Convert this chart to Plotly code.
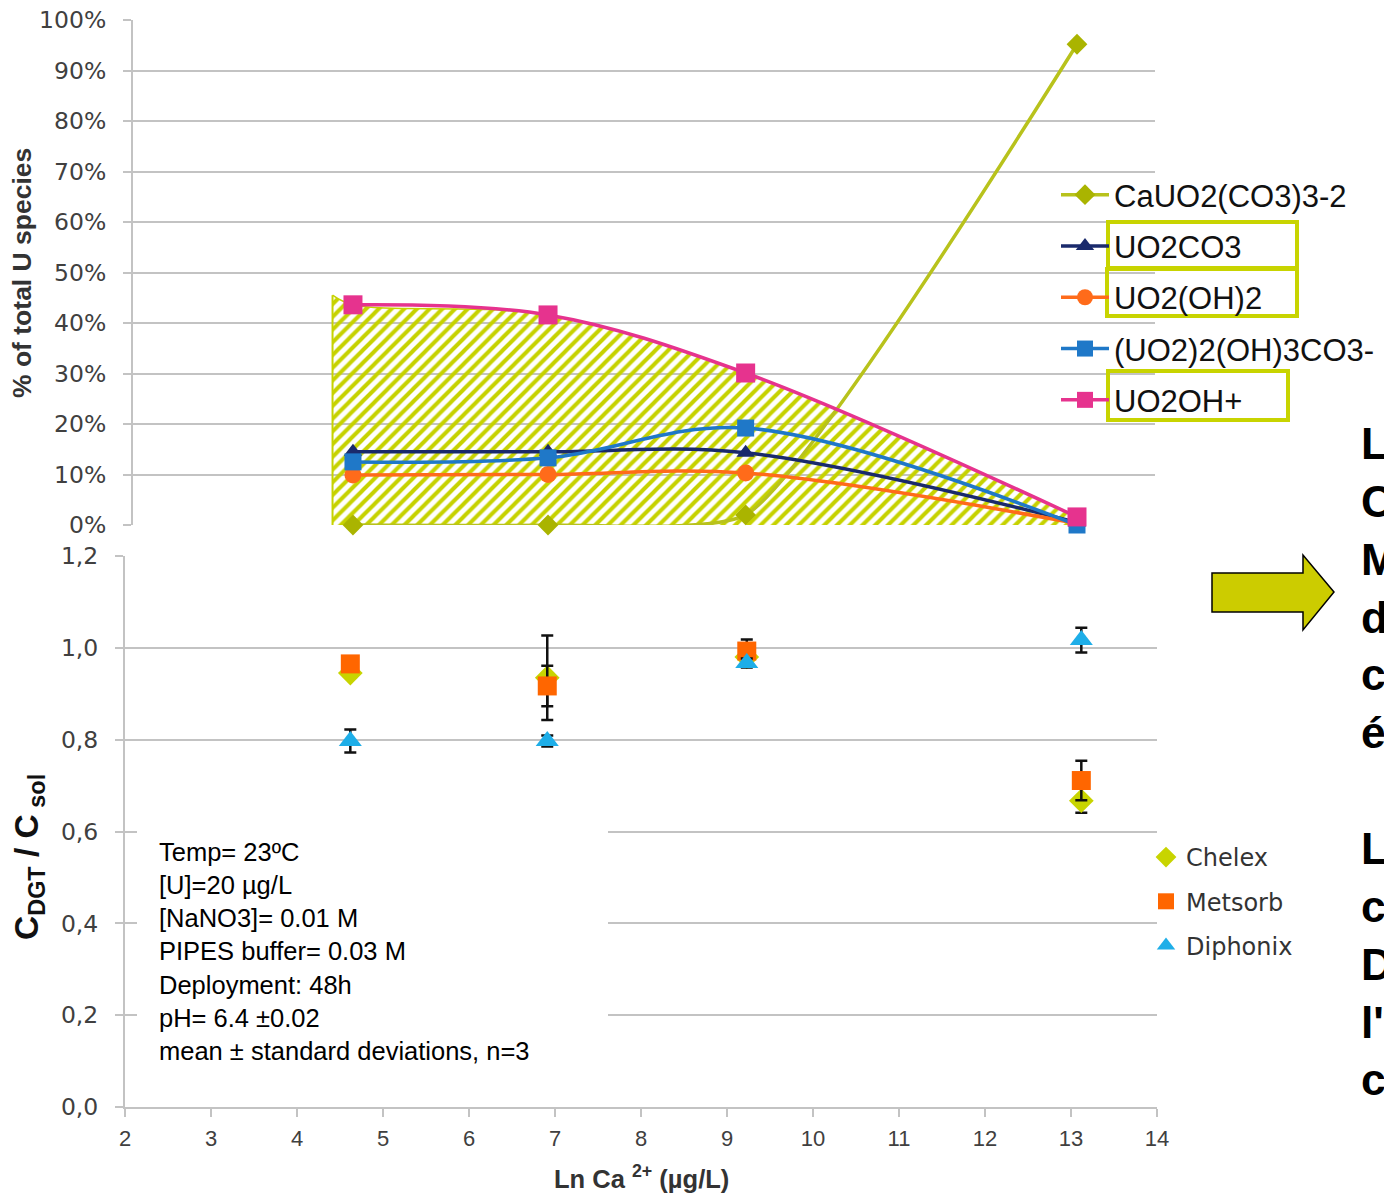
import plotly.graph_objects as go

W, H = 1384, 1195

# ---------------- data ----------------
ln_ca = [4.62, 6.91, 9.23, 13.12]

species_names = ["CaUO2(CO3)3-2", "UO2CO3", "UO2(OH)2", "(UO2)2(OH)3CO3-", "UO2OH+"]
ca_uo2_co3 = [0.0, 0.0, 2.0, 95.2]
uo2co3 = [14.5, 14.5, 14.3, 0.5]
uo2_oh2 = [9.9, 10.0, 10.3, 0.3]
uo2_2_oh3co3 = [12.5, 13.3, 19.2, 0.0]
uo2oh = [43.6, 41.6, 30.1, 1.6]

hatch_start_x = 4.38
hatch_start_y = 45.5

resins = ["Chelex", "Metsorb", "Diphonix"]
chelex = [0.945, 0.935, 0.980, 0.667]
chelex_sd = [0.010, 0.092, 0.020, 0.026]
metsorb = [0.965, 0.917, 0.993, 0.711]
metsorb_sd = [0.010, 0.044, 0.025, 0.043]
diphonix = [0.797, 0.797, 0.967, 1.017]
diphonix_sd = [0.025, 0.012, 0.010, 0.027]

pct_ticks = [0, 10, 20, 30, 40, 50, 60, 70, 80, 90, 100]
pct_ticktext = ["0%", "10%", "20%", "30%", "40%", "50%", "60%", "70%", "80%", "90%", "100%"]
ratio_ticks = [0.0, 0.2, 0.4, 0.6, 0.8, 1.0, 1.2]
ratio_ticktext = ["0,0", "0,2", "0,4", "0,6", "0,8", "1,0", "1,2"]
x_ticks = [2, 3, 4, 5, 6, 7, 8, 9, 10, 11, 12, 13, 14]

conditions = ["Temp= 23ºC", "[U]=20 µg/L", "[NaNO3]= 0.01 M", "PIPES buffer= 0.03 M",
              "Deployment: 48h", "pH= 6.4 ±0.02", "mean ± standard deviations, n=3"]
side_letters = ["L", "C", "M", "d", "c", "é", "", "L", "c", "D", "l'", "c"]

# ---------------- style ----------------
FONT = "Liberation Sans, Arial, sans-serif"
VFONT = "DejaVu Sans, Verdana, sans-serif"
NARROW = "Liberation Sans Narrow, Arial Narrow, Liberation Sans, Arial, sans-serif"
GRID = "#c3c3c3"
TICKC = "#404040"
YG_LINE = "#b8c21c"
YG_MARK = "#aab400"
HATCH = "#c6d200"
BOX = "#c8d400"
NAVY = "#1a2a6c"
ORANGE = "#ff6b1a"
BLUE = "#1f78c8"
PINK = "#e6338e"
CHELEX_C = "#c8d400"
METSORB_C = "#ff6600"
DIPHONIX_C = "#1eaee8"


def px(x):
    return x / W


def py(y):
    return 1 - y / H


# top chart x mapping (pixels)
TOP_X2_PIX = 129.8
TOP_SCALE = 85.18
top_range = [2 + (133 - TOP_X2_PIX) / TOP_SCALE, 2 + (1155 - TOP_X2_PIX) / TOP_SCALE]

fig = go.Figure()

# hatched area
fig.add_trace(go.Scatter(
    x=[hatch_start_x] + ln_ca, y=[hatch_start_y] + uo2oh,
    mode="lines", line=dict(color=HATCH, width=1.5, shape="spline"),
    fill="tozeroy", fillcolor="rgba(0,0,0,0)",
    fillpattern=dict(shape="/", fgcolor=HATCH, size=9, solidity=0.45, fgopacity=1),
    showlegend=False, hoverinfo="skip", xaxis="x", yaxis="y"))
fig.add_trace(go.Scatter(
    x=[hatch_start_x, hatch_start_x], y=[0, hatch_start_y], mode="lines",
    line=dict(color=HATCH, width=2), showlegend=False, hoverinfo="skip",
    xaxis="x", yaxis="y"))

top_series = [
    (species_names[0], ca_uo2_co3, YG_LINE, YG_MARK, "diamond", 16, 0.5),
    (species_names[1], uo2co3, NAVY, NAVY, "triangle-up", 16, 1.0),
    (species_names[2], uo2_oh2, ORANGE, ORANGE, "circle", 17, 1.0),
    (species_names[3], uo2_2_oh3co3, BLUE, BLUE, "square", 17, 1.0),
    (species_names[4], uo2oh, PINK, PINK, "square", 19, 1.0),
]
for i, (name, vals, lc, mc, sym, sz, sm) in enumerate(top_series):
    fig.add_trace(go.Scatter(
        x=ln_ca, y=vals, name=name, mode="lines+markers",
        line=dict(color=lc, width=3.5, shape="spline", smoothing=sm),
        marker=dict(color=mc, symbol=sym, size=sz),
        cliponaxis=False, legend="legend", legendgroup=f"g{i}",
        xaxis="x", yaxis="y"))

bottom_series = [
    (resins[0], chelex, chelex_sd, CHELEX_C, "diamond", 19),
    (resins[1], metsorb, metsorb_sd, METSORB_C, "square", 19),
    (resins[2], diphonix, diphonix_sd, DIPHONIX_C, "triangle-up", 20),
]
for i, (name, vals, sd, c, sym, sz) in enumerate(bottom_series):
    fig.add_trace(go.Scatter(
        x=ln_ca, y=vals, name=name, mode="markers",
        marker=dict(color=c, symbol=sym, size=sz),
        error_y=dict(type="data", array=sd, color="#111111", thickness=2.5, width=6),
        cliponaxis=False, legend="legend2", legendgroup=f"b{i}",
        xaxis="x2", yaxis="y2"))

axis_common = dict(showline=True, linecolor=GRID, linewidth=2, ticks="outside",
                   ticklen=8, tickcolor=GRID, tickwidth=2, zeroline=False,
                   automargin=False)

fig.update_layout(
    template="none",
    width=W, height=H, autosize=False,
    margin=dict(l=0, r=0, t=0, b=0, pad=0, autoexpand=False),
    paper_bgcolor="white", plot_bgcolor="rgba(0,0,0,0)",
    font=dict(family=FONT, color=TICKC),
    xaxis=dict(domain=[px(133), px(1155)], range=top_range, visible=False,
               anchor="y", automargin=False),
    yaxis=dict(domain=[py(525), py(20)], range=[0, 100], tickvals=pct_ticks,
               ticktext=pct_ticktext, showgrid=True, gridcolor=GRID, gridwidth=2,
               tickfont=dict(size=23.5, color=TICKC, family=VFONT),
               ticklabelstandoff=12, anchor="x", **axis_common),
    xaxis2=dict(domain=[px(125), px(1157)], range=[2, 14], tickvals=x_ticks,
                showgrid=False, tickfont=dict(size=22, color=TICKC, family=NARROW),
                ticklabelstandoff=3, anchor="y2", **axis_common),
    yaxis2=dict(domain=[py(1107), py(556)], range=[0, 1.2], tickvals=ratio_ticks,
                ticktext=ratio_ticktext, showgrid=True, gridcolor=GRID, gridwidth=2,
                tickfont=dict(size=23.5, color=TICKC, family=VFONT),
                ticklabelstandoff=12, anchor="x2", **axis_common),
    legend=dict(x=px(1056), y=py(168), xanchor="left", yanchor="top",
                bgcolor="rgba(0,0,0,0)", borderwidth=0, itemwidth=48, tracegroupgap=8,
                font=dict(size=31, color="#111111", family=FONT)),
    legend2=dict(x=px(1146), y=py(835), xanchor="left", yanchor="top",
                 bgcolor="rgba(0,0,0,0)", borderwidth=0, tracegroupgap=10,
                 font=dict(size=24, color="#333333", family=VFONT)),
    showlegend=True,
)

shapes = []
# white box behind the conditions text (hides the gridlines)
shapes.append(dict(type="rect", xref="paper", yref="paper",
                   x0=px(137), x1=px(608), y0=py(1075), y1=py(818),
                   fillcolor="white", line=dict(width=0), layer="above"))
# highlight boxes around legend labels
for (x0, y0, x1, y1) in [(1108, 222, 1297, 268), (1107, 269, 1297, 316), (1108, 371, 1288, 420)]:
    shapes.append(dict(type="rect", xref="paper", yref="paper",
                       x0=px(x0), x1=px(x1), y0=py(y1), y1=py(y0),
                       line=dict(color=BOX, width=4), fillcolor="rgba(0,0,0,0)",
                       layer="above"))
# arrow
arrow_pts = [(1212, 573), (1303, 573), (1303, 555), (1334, 592), (1303, 630), (1303, 612), (1212, 612)]
path = "M " + " L ".join(f"{px(a):.5f},{py(b):.5f}" for a, b in arrow_pts) + " Z"
shapes.append(dict(type="path", xref="paper", yref="paper", path=path,
                   fillcolor="#cccc00", line=dict(color="#000000", width=1.5), layer="above"))
fig.update_layout(shapes=shapes)

annotations = [
    dict(text="<br>".join(conditions), xref="paper", yref="paper",
         x=px(157), y=py(951), xanchor="left", yanchor="middle", align="left",
         showarrow=False, font=dict(size=25.5, color="#000000", family=FONT)),
    dict(text="<b>% of total U species</b>", xref="paper", yref="paper",
         x=px(22), y=py(273), xanchor="center", yanchor="middle", textangle=-90,
         showarrow=False, font=dict(size=26.5, color="#333333", family=FONT)),
    dict(text="<b>C<sub>DGT</sub> / C<sub> sol</sub></b>", xref="paper", yref="paper",
         x=px(29), y=py(857), xanchor="center", yanchor="middle", textangle=-90,
         showarrow=False, font=dict(size=33.5, color="#111111", family=FONT)),
    dict(text="<b>Ln Ca <sup>2+</sup> (µg/L)</b>", xref="paper", yref="paper",
         x=px(641), y=py(1177), xanchor="center", yanchor="middle",
         showarrow=False, font=dict(size=25.5, color="#333333", family=NARROW)),
    dict(text="<b>" + "<br>".join(side_letters) + "</b>", xref="paper", yref="paper",
         x=px(1359), y=py(761), xanchor="left", yanchor="middle", align="left",
         showarrow=False, font=dict(size=44.5, color="#000000", family=FONT)),
]
fig.update_layout(annotations=annotations)

fig.write_html("out.html", config={"displayModeBar": False, "responsive": False},
               post_script="document.body.style.margin='0px';")
